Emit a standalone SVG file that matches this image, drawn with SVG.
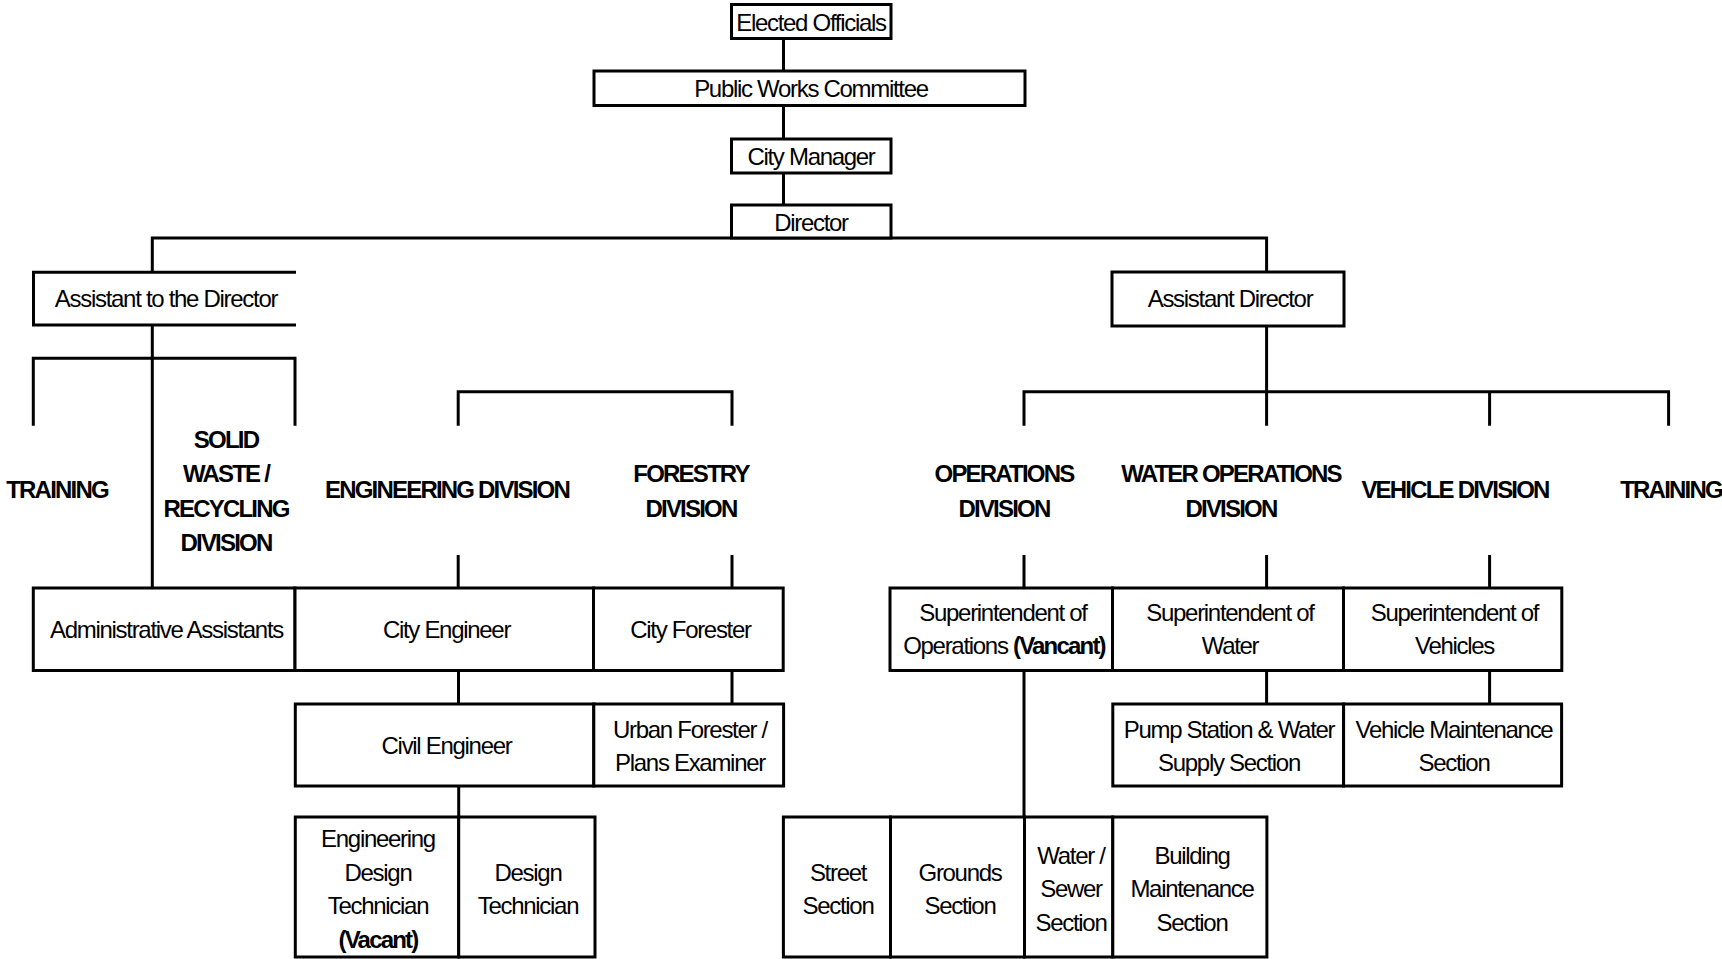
<svg xmlns="http://www.w3.org/2000/svg" width="1722" height="959" viewBox="0 0 1722 959">
<style>
.b{fill:#fff;stroke:#000;stroke-width:3}
.o{fill:none;stroke:#000;stroke-width:3}
.c{fill:none;stroke:#000;stroke-width:3;stroke-linejoin:miter}
text{font-family:"Liberation Sans",Arial,sans-serif;font-size:24px;fill:#000;text-anchor:middle;letter-spacing:-1.3px}
.h{font-weight:bold;letter-spacing:-1.8px}
.bd{font-weight:bold;letter-spacing:-1.8px}
</style>
<rect width="1722" height="959" fill="#fff"/>
<g id="connectors">
<path class="c" d="M783.5,38 V71 M783.5,105 V139 M783.5,173 V205"/>
<path class="c" d="M152.3,272 V238 H1266.6 V272"/>
<path class="c" d="M152.3,325 V588"/>
<path class="c" d="M33.3,425.7 V358.3 H295 V425.7"/>
<path class="c" d="M458.2,425.7 V391.7 H732 V425.7"/>
<path class="c" d="M458.2,555 V588 M732,555 V588"/>
<path class="c" d="M458.5,670.5 V704 M732,670.5 V704"/>
<path class="c" d="M458.7,786 V817"/>
<path class="c" d="M1266.6,326 V425.7 M1024,425.7 V391.7 H1668.6 V425.7 M1489.6,391.7 V425.7"/>
<path class="c" d="M1024,555 V588 M1266.6,555 V588 M1489.6,555 V588"/>
<path class="c" d="M1024,670.5 V817 M1266.6,670.5 V704 M1489.6,670.5 V704"/>
</g>
<g id="elected-officials"><rect class="b" x="731.5" y="4.5" width="159.5" height="34"/><text x="811" y="30.5">Elected Officials</text></g>
<g id="public-works-committee"><rect class="b" x="594" y="71" width="431" height="34.5"/><text x="811" y="97">Public Works Committee</text></g>
<g id="city-manager"><rect class="b" x="731.5" y="139" width="159.5" height="34"/><text x="811" y="165">City Manager</text></g>
<g id="director"><rect class="b" x="731.5" y="205" width="159.5" height="33"/><text x="811" y="230.5">Director</text></g>
<g id="assistant-to-director"><path class="o" d="M296,272.3 H33.5 V325 H296" style="fill:#fff"/><text x="166" y="306.7">Assistant to the Director</text></g>
<g id="assistant-director"><rect class="b" x="1112" y="272" width="232" height="54"/><text x="1230" y="306.7">Assistant Director</text></g>
<g id="training-left"><text class="h" x="57" y="498.3">TRAINING</text></g>
<g id="solid-waste"><text class="h" x="226" y="447.5">SOLID</text><text class="h" x="226" y="482">WASTE /</text><text class="h" x="226" y="516.5">RECYCLING</text><text class="h" x="226" y="551">DIVISION</text></g>
<g id="engineering-division"><text class="h" x="447" y="498.3">ENGINEERING DIVISION</text></g>
<g id="forestry-division"><text class="h" x="691" y="481.5">FORESTRY</text><text class="h" x="691" y="516.5">DIVISION</text></g>
<g id="operations-division"><text class="h" x="1004" y="481.5">OPERATIONS</text><text class="h" x="1004" y="516.5">DIVISION</text></g>
<g id="water-operations-division"><text class="h" x="1231" y="481.5">WATER OPERATIONS</text><text class="h" x="1231" y="516.5">DIVISION</text></g>
<g id="vehicle-division"><text class="h" x="1455" y="498.3">VEHICLE DIVISION</text></g>
<g id="training-right"><text class="h" x="1671" y="498.3">TRAINING</text></g>
<g id="administrative-assistants"><rect class="b" x="33.3" y="588" width="261.7" height="82.5"/><text x="166.5" y="638">Administrative Assistants</text></g>
<g id="city-engineer"><rect class="b" x="295" y="588" width="298.5" height="82.5"/><text x="446.5" y="638">City Engineer</text></g>
<g id="city-forester"><rect class="b" x="593.5" y="588" width="189.7" height="82.5"/><text x="690.5" y="638">City Forester</text></g>
<g id="civil-engineer"><rect class="b" x="295.3" y="704" width="298.5" height="82"/><text x="446.5" y="754">Civil Engineer</text></g>
<g id="urban-forester"><rect class="b" x="593.8" y="704" width="189.8" height="82"/><text x="690" y="737.5">Urban Forester /</text><text x="690" y="771">Plans Examiner</text></g>
<g id="engineering-design-technician"><rect class="b" x="295.3" y="817" width="163.4" height="140"/><text x="378" y="846.5">Engineering</text><text x="378" y="880.5">Design</text><text x="378" y="914">Technician</text><text class="bd" x="378" y="947.5">(Vacant)</text></g>
<g id="design-technician"><rect class="b" x="458.7" y="817" width="136.3" height="140"/><text x="528" y="880.5">Design</text><text x="528" y="914">Technician</text></g>
<g id="superintendent-operations"><rect class="b" x="890" y="588" width="222.5" height="82.5"/><text x="1003" y="620.5">Superintendent of</text><text x="1004" y="653.5">Operations <tspan class="bd">(Vancant)</tspan></text></g>
<g id="superintendent-water"><rect class="b" x="1112.5" y="588" width="231" height="82.5"/><text x="1230" y="620.5">Superintendent of</text><text x="1230" y="653.5">Water</text></g>
<g id="superintendent-vehicles"><rect class="b" x="1343.5" y="588" width="218.3" height="82.5"/><text x="1454.5" y="620.5">Superintendent of</text><text x="1454.5" y="653.5">Vehicles</text></g>
<g id="pump-station"><rect class="b" x="1112.8" y="704" width="230.8" height="82"/><text x="1229" y="737.5">Pump Station &amp; Water</text><text x="1229" y="771">Supply Section</text></g>
<g id="vehicle-maintenance"><rect class="b" x="1343.6" y="704" width="218" height="82"/><text x="1454" y="737.5">Vehicle Maintenance</text><text x="1454" y="771">Section</text></g>
<g id="street-section"><rect class="b" x="783.4" y="817" width="107.1" height="140"/><text x="838" y="880.5">Street</text><text x="838" y="914">Section</text></g>
<g id="grounds-section"><rect class="b" x="890.5" y="817" width="134" height="140"/><text x="960" y="880.5">Grounds</text><text x="960" y="914">Section</text></g>
<g id="water-sewer-section"><rect class="b" x="1024.5" y="817" width="88.3" height="140"/><text x="1071" y="863.5">Water /</text><text x="1071" y="897">Sewer</text><text x="1071" y="930.5">Section</text></g>
<g id="building-maintenance-section"><rect class="b" x="1112.8" y="817" width="154.1" height="140"/><text x="1192" y="863.5">Building</text><text x="1192" y="897">Maintenance</text><text x="1192" y="930.5">Section</text></g>
</svg>
